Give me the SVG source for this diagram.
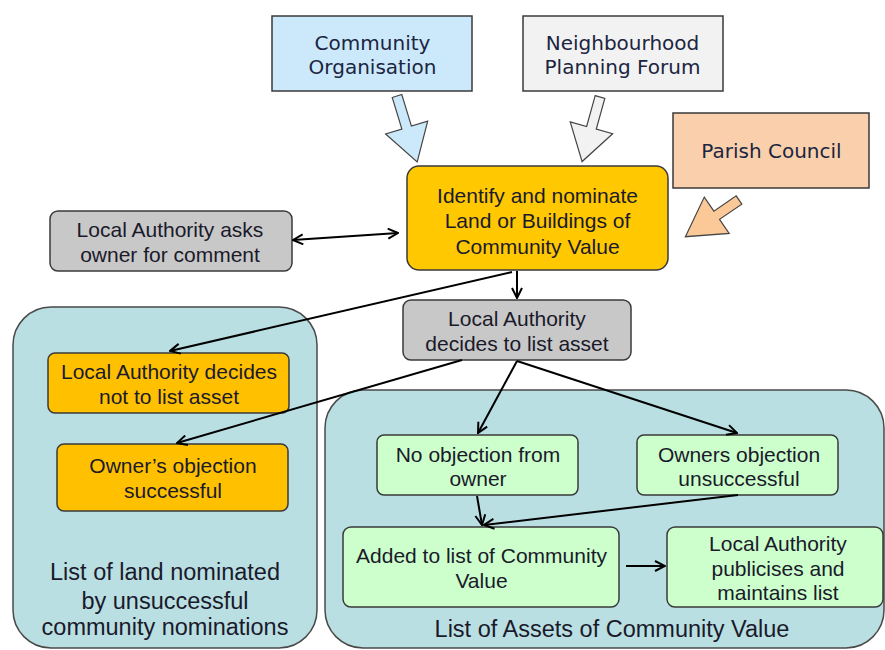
<svg xmlns="http://www.w3.org/2000/svg" width="885" height="650" viewBox="0 0 885 650">
<defs>
<marker id="ah" viewBox="0 0 12 12" refX="11" refY="6" markerWidth="12" markerHeight="12" markerUnits="userSpaceOnUse" orient="auto-start-reverse">
<path d="M1,1 L11,6 L1,11" fill="none" stroke="#000" stroke-width="2"/>
</marker>
</defs>
<style>
.box{stroke:#3a3a3a;stroke-width:1.5}
.cont{fill:#b9dfe3;stroke:#4a4a4a;stroke-width:1.5}
.blue{fill:#cce9fb}
.grey1{fill:#f2f2f2}
.peach{fill:#fad0ac}
.gold{fill:#ffc800}
.orange{fill:#ffc000}
.grey{fill:#c8c8c8}
.green{fill:#ccffcc}
.barrow{stroke:#444;stroke-width:1.2}
.v{font-family:"DejaVu Sans",Verdana,sans-serif;font-size:20px;fill:#1b2540;text-anchor:middle}
.t{font-family:"Liberation Sans",Arial,sans-serif;font-size:21px;fill:#1a1a2a;text-anchor:middle}
.h{font-family:"Liberation Sans",Arial,sans-serif;font-size:23.5px;fill:#1a1a2a;text-anchor:middle}
.con{stroke:#000;stroke-width:2;fill:none;marker-end:url(#ah)}
</style>

<g id="container-unsuccessful">
<rect class="cont" x="13" y="307" width="304" height="341" rx="38"/>
<text class="h" x="165" y="580">List of land nominated</text>
<text class="h" x="165" y="608.5">by unsuccessful</text>
<text class="h" x="165" y="635">community nominations</text>
</g>
<g id="container-assets">
<rect class="cont" x="325" y="390" width="559" height="258" rx="38"/>
<text class="h" x="612" y="637">List of Assets of Community Value</text>
</g>

<g id="community-organisation">
<rect class="box blue" x="272" y="16" width="200" height="75"/>
<text class="v" x="372.5" y="50">Community</text>
<text class="v" x="372.5" y="74">Organisation</text>
</g>
<g id="neighbourhood-forum">
<rect class="box grey1" x="523" y="16" width="200" height="75"/>
<text class="v" x="622.5" y="50">Neighbourhood</text>
<text class="v" x="622.5" y="74">Planning Forum</text>
</g>
<g id="parish-council">
<rect class="box peach" x="673" y="113" width="196" height="75"/>
<text class="v" x="771.5" y="158">Parish Council</text>
</g>

<g id="block-arrows">
<polygon class="barrow blue" transform="translate(397,96) rotate(-17)" points="-5,0 5,0 5,33 22,33 0,69 -22,33 -5,33"/>
<polygon class="barrow grey1" transform="translate(600,97) rotate(15.5)" points="-5,0 5,0 5,32 22,32 0,67 -22,32 -5,32"/>
<polygon class="barrow" style="fill:#fbc898" transform="translate(739,200) rotate(55.6)" points="-5,0 5,0 5,27 22,27 0,65 -22,27 -5,27"/>
</g>

<g id="identify-nominate">
<rect class="box gold" x="407" y="166" width="261" height="104" rx="12"/>
<text class="t" x="537.5" y="202.5">Identify and nominate</text>
<text class="t" x="537.5" y="228">Land or Buildings of</text>
<text class="t" x="537.5" y="254">Community Value</text>
</g>
<g id="asks-owner">
<rect class="box grey" x="50" y="211" width="242" height="60" rx="8"/>
<text class="t" x="170" y="237">Local Authority asks</text>
<text class="t" x="170" y="262">owner for comment</text>
</g>
<g id="decides-to-list">
<rect class="box grey" x="403" y="300" width="228" height="60" rx="8"/>
<text class="t" x="517" y="326">Local Authority</text>
<text class="t" x="517" y="351">decides to list asset</text>
</g>
<g id="not-to-list">
<rect class="box orange" x="48" y="353" width="241" height="60" rx="7"/>
<text class="t" x="169" y="379">Local Authority decides</text>
<text class="t" x="169" y="403.5">not to list asset</text>
</g>
<g id="owner-objection-successful">
<rect class="box orange" x="57" y="444" width="231" height="67" rx="7"/>
<text class="t" x="173" y="473">Owner’s objection</text>
<text class="t" x="173" y="497.5">successful</text>
</g>
<g id="no-objection">
<rect class="box green" x="377" y="435" width="201" height="60" rx="7"/>
<text class="t" x="478" y="461.5">No objection from</text>
<text class="t" x="478" y="486">owner</text>
</g>
<g id="owners-objection-unsuccessful">
<rect class="box green" x="637" y="435" width="201" height="60" rx="7"/>
<text class="t" x="739" y="461.5">Owners objection</text>
<text class="t" x="739" y="486">unsuccessful</text>
</g>
<g id="added-to-list">
<rect class="box green" x="343" y="527" width="276" height="80" rx="8"/>
<text class="t" x="481.5" y="562.5">Added to list of Community</text>
<text class="t" x="481.5" y="587.5">Value</text>
</g>
<g id="publicises">
<rect class="box green" x="667" y="527" width="216" height="80" rx="8"/>
<text class="t" x="778" y="551">Local Authority</text>
<text class="t" x="778" y="575.5">publicises and</text>
<text class="t" x="778" y="599.5">maintains list</text>
</g>

<g id="connectors">
<line class="con" x1="293" y1="240" x2="398" y2="233" style="marker-start:url(#ah)"/>
<line class="con" x1="517" y1="271" x2="517" y2="298"/>
<line class="con" x1="512" y1="272" x2="170" y2="351"/>
<line class="con" x1="462" y1="360" x2="177" y2="443"/>
<line class="con" x1="517" y1="361" x2="478" y2="433"/>
<line class="con" x1="517" y1="361" x2="737" y2="433"/>
<line class="con" x1="477" y1="496" x2="482" y2="525"/>
<line class="con" x1="738" y1="495" x2="484" y2="525"/>
<line class="con" x1="626" y1="566" x2="665" y2="566"/>
</g>
</svg>
